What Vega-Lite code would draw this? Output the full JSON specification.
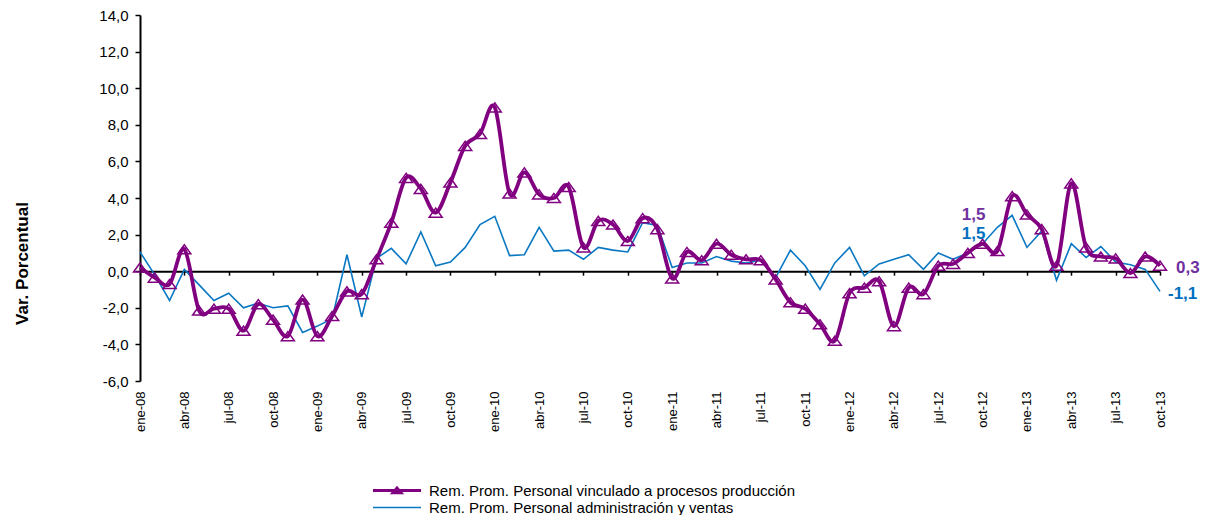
{
  "$schema": "https://vega.github.io/schema/vega-lite/v6.json",
  "width": 1020,
  "height": 366,
  "autosize": {"type": "none"},
  "padding": {"left": 140, "top": 15, "right": 58, "bottom": 134},
  "background": "white",
  "config": {
    "view": {"stroke": null},
    "font": "Liberation Sans",
    "axis": {"labelOverlap": false},
    "axisY": {"labelOverlap": false},
    "axisLeft": {"labelOverlap": false},
    "axisQuantitative": {"labelOverlap": false, "tickCount": 11},
    "locale": {"number": {"decimal": ",", "thousands": ".", "grouping": [3], "currency": ["", " €"], "minus": "-"}}
  },
  "datasets": {
    "series": [
      {"mes": "ene-08", "prod": 0.2, "adm": 1.05},
      {"mes": "feb-08", "prod": -0.35, "adm": -0.2},
      {"mes": "mar-08", "prod": -0.7, "adm": -1.6},
      {"mes": "abr-08", "prod": 1.2, "adm": 0.1},
      {"mes": "may-08", "prod": -2.15, "adm": -0.75},
      {"mes": "jun-08", "prod": -2.05, "adm": -1.6},
      {"mes": "jul-08", "prod": -2.05, "adm": -1.2},
      {"mes": "ago-08", "prod": -3.25, "adm": -2.0},
      {"mes": "sep-08", "prod": -1.8, "adm": -1.75},
      {"mes": "oct-08", "prod": -2.65, "adm": -2.0},
      {"mes": "nov-08", "prod": -3.55, "adm": -1.9},
      {"mes": "dic-08", "prod": -1.55, "adm": -3.35},
      {"mes": "ene-09", "prod": -3.55, "adm": -3.0},
      {"mes": "feb-09", "prod": -2.45, "adm": -2.6},
      {"mes": "mar-09", "prod": -1.1, "adm": 0.9},
      {"mes": "abr-09", "prod": -1.25, "adm": -2.5},
      {"mes": "may-09", "prod": 0.65, "adm": 0.7},
      {"mes": "jun-09", "prod": 2.65, "adm": 1.25},
      {"mes": "jul-09", "prod": 5.1, "adm": 0.4},
      {"mes": "ago-09", "prod": 4.5, "adm": 2.15},
      {"mes": "sep-09", "prod": 3.2, "adm": 0.3},
      {"mes": "oct-09", "prod": 4.85, "adm": 0.5},
      {"mes": "nov-09", "prod": 6.85, "adm": 1.3},
      {"mes": "dic-09", "prod": 7.5, "adm": 2.55},
      {"mes": "ene-10", "prod": 8.95, "adm": 3.0},
      {"mes": "feb-10", "prod": 4.25, "adm": 0.85},
      {"mes": "mar-10", "prod": 5.4, "adm": 0.9},
      {"mes": "abr-10", "prod": 4.2, "adm": 2.4},
      {"mes": "may-10", "prod": 4.0, "adm": 1.1},
      {"mes": "jun-10", "prod": 4.6, "adm": 1.15},
      {"mes": "jul-10", "prod": 1.3, "adm": 0.65},
      {"mes": "ago-10", "prod": 2.75, "adm": 1.3},
      {"mes": "sep-10", "prod": 2.55, "adm": 1.15},
      {"mes": "oct-10", "prod": 1.65, "adm": 1.05},
      {"mes": "nov-10", "prod": 2.9, "adm": 2.65},
      {"mes": "dic-10", "prod": 2.3, "adm": 2.5},
      {"mes": "ene-11", "prod": -0.4, "adm": 0.2},
      {"mes": "feb-11", "prod": 1.05, "adm": 0.45},
      {"mes": "mar-11", "prod": 0.6, "adm": 0.45},
      {"mes": "abr-11", "prod": 1.5, "adm": 0.8},
      {"mes": "may-11", "prod": 0.9, "adm": 0.55},
      {"mes": "jun-11", "prod": 0.65, "adm": 0.45},
      {"mes": "jul-11", "prod": 0.6, "adm": 0.6},
      {"mes": "ago-11", "prod": -0.45, "adm": -0.35},
      {"mes": "sep-11", "prod": -1.7, "adm": 1.15},
      {"mes": "oct-11", "prod": -2.05, "adm": 0.3},
      {"mes": "nov-11", "prod": -2.9, "adm": -1.0},
      {"mes": "dic-11", "prod": -3.8, "adm": 0.45},
      {"mes": "ene-12", "prod": -1.2, "adm": 1.3},
      {"mes": "feb-12", "prod": -0.9, "adm": -0.25},
      {"mes": "mar-12", "prod": -0.55, "adm": 0.4},
      {"mes": "abr-12", "prod": -3.0, "adm": 0.65},
      {"mes": "may-12", "prod": -0.9, "adm": 0.9},
      {"mes": "jun-12", "prod": -1.25, "adm": 0.1},
      {"mes": "jul-12", "prod": 0.3, "adm": 1.0},
      {"mes": "ago-12", "prod": 0.4, "adm": 0.65},
      {"mes": "sep-12", "prod": 1.0, "adm": 1.0},
      {"mes": "oct-12", "prod": 1.5, "adm": 1.5},
      {"mes": "nov-12", "prod": 1.1, "adm": 2.4},
      {"mes": "dic-12", "prod": 4.1, "adm": 3.05},
      {"mes": "ene-13", "prod": 3.1, "adm": 1.3},
      {"mes": "feb-13", "prod": 2.3, "adm": 2.2},
      {"mes": "mar-13", "prod": 0.3, "adm": -0.5},
      {"mes": "abr-13", "prod": 4.8, "adm": 1.5},
      {"mes": "may-13", "prod": 1.3, "adm": 0.75},
      {"mes": "jun-13", "prod": 0.8, "adm": 1.35},
      {"mes": "jul-13", "prod": 0.7, "adm": 0.5},
      {"mes": "ago-13", "prod": -0.1, "adm": 0.35},
      {"mes": "sep-13", "prod": 0.8, "adm": 0.1},
      {"mes": "oct-13", "prod": 0.3, "adm": -1.1}
    ]
  },
  "data": {"name": "series"},
  "layer": [
    {
      "mark": {"type": "line", "strokeWidth": 1.6},
      "encoding": {
        "x": {
          "field": "mes", "type": "ordinal", "sort": null,
          "scale": {"type": "point", "padding": 0},
          "axis": {
            "orient": "bottom",
            "offset": -109.8, "title": null, "labels": false, "grid": false,
            "values": ["ene-08","abr-08","jul-08","oct-08","ene-09","abr-09","jul-09","oct-09","ene-10","abr-10","jul-10","oct-10","ene-11","abr-11","jul-11","oct-11","ene-12","abr-12","jul-12","oct-12","ene-13","abr-13","jul-13","oct-13"],
            "domain": true, "domainColor": "black", "domainWidth": 2,
            "ticks": true, "tickSize": 4, "tickColor": "black", "tickWidth": 1.5
          }
        },
        "y": {
          "field": "adm", "type": "quantitative",
          "scale": {"domain": [-6, 14], "nice": false, "zero": false},
          "axis": {
            "title": "Var. Porcentual",
            "titleFontSize": 17, "titleFontWeight": "bold", "titleColor": "black",
            "titleX": -118, "titleY": 248, "titleAngle": 270, "titleAlign": "center", "titleBaseline": "middle",
            "values": [-6, -4, -2, 0, 2, 4, 6, 8, 10, 12, 14],
            "tickCount": 11,
            "format": ".1f", "labelOverlap": false, "labelFlush": false, "labelBound": false,
            "labelFontSize": 15, "labelColor": "black", "labelPadding": 7,
            "grid": false,
            "domainColor": "black", "domainWidth": 2,
            "tickColor": "black", "tickSize": 5, "tickWidth": 1.5
          }
        },
        "color": {
          "datum": "Rem. Prom. Personal administración y ventas",
          "scale": {
            "domain": ["Rem. Prom. Personal vinculado a procesos producción", "Rem. Prom. Personal administración y ventas"],
            "range": ["#800080", "#0A78C2"]
          },
          "legend": {
            "orient": "none", "legendX": 249.5, "legendY": 468, "direction": "vertical",
            "title": null, "labelFontSize": 15, "labelColor": "black", "labelLimit": 700,
            "symbolSize": 100, "symbolStrokeWidth": 3, "labelOffset": 24.5, "rowPadding": 1,
            "encode": {
              "symbols": {
                "update": {
                  "shape": {"signal": "datum.index === 0 ? 'M-4.8,0L4.8,0M-0.8,0.45L0,-0.5L0.8,0.45Z' : 'M-4.8,0L4.8,0'"},
                  "strokeWidth": {"signal": "datum.index === 0 ? 3 : 1.5"},
                  "fill": {"value": "transparent"}
                }
              }
            }
          }
        }
      }
    },
    {
      "mark": {"type": "line", "strokeWidth": 3.8, "interpolate": "cardinal"},
      "encoding": {
        "x": {
          "field": "mes", "type": "ordinal", "sort": null,
          "axis": {
            "orient": "bottom",
            "title": null, "labelAngle": 270, "labelFontSize": 13, "labelColor": "black",
            "labelPadding": 10, "ticks": false, "domain": false, "grid": false, "labelOverlap": false,
            "values": ["ene-08","abr-08","jul-08","oct-08","ene-09","abr-09","jul-09","oct-09","ene-10","abr-10","jul-10","oct-10","ene-11","abr-11","jul-11","oct-11","ene-12","abr-12","jul-12","oct-12","ene-13","abr-13","jul-13","oct-13"]
          }
        },
        "y": {"field": "prod", "type": "quantitative", "axis": {"labelOverlap": false}},
        "color": {"datum": "Rem. Prom. Personal vinculado a procesos producción"}
      }
    },
    {
      "mark": {"type": "point", "shape": "M0,-0.7L-1,0.7L1,0.7Z", "size": 169, "filled": false, "stroke": "#800080", "strokeWidth": 1.5, "opacity": 1},
      "encoding": {
        "x": {"field": "mes", "type": "ordinal", "sort": null, "axis": null},
        "y": {"field": "prod", "type": "quantitative", "axis": {"labelOverlap": false}}
      }
    },
    {
      "transform": [{"filter": "datum.mes === 'oct-12'"}],
      "mark": {"type": "text", "color": "#7030A0", "fontSize": 17, "fontWeight": "bold", "align": "center", "baseline": "middle", "dx": -9, "dy": -29},
      "encoding": {
        "x": {"field": "mes", "type": "ordinal", "sort": null, "axis": null},
        "y": {"field": "prod", "type": "quantitative", "axis": {"labelOverlap": false}},
        "text": {"field": "prod", "type": "quantitative", "format": ".1f"}
      }
    },
    {
      "transform": [{"filter": "datum.mes === 'oct-12'"}],
      "mark": {"type": "text", "color": "#0070C0", "fontSize": 17, "fontWeight": "bold", "align": "center", "baseline": "middle", "dx": -9, "dy": -10},
      "encoding": {
        "x": {"field": "mes", "type": "ordinal", "sort": null, "axis": null},
        "y": {"field": "adm", "type": "quantitative", "axis": {"labelOverlap": false}},
        "text": {"field": "adm", "type": "quantitative", "format": ".1f"}
      }
    },
    {
      "transform": [{"filter": "datum.mes === 'oct-13'"}],
      "mark": {"type": "text", "color": "#7030A0", "fontSize": 17, "fontWeight": "bold", "align": "left", "baseline": "middle", "dx": 16, "dy": 2},
      "encoding": {
        "x": {"field": "mes", "type": "ordinal", "sort": null, "axis": null},
        "y": {"field": "prod", "type": "quantitative", "axis": {"labelOverlap": false}},
        "text": {"field": "prod", "type": "quantitative", "format": ".1f"}
      }
    },
    {
      "transform": [{"filter": "datum.mes === 'oct-13'"}],
      "mark": {"type": "text", "color": "#0070C0", "fontSize": 17, "fontWeight": "bold", "align": "left", "baseline": "middle", "dx": 8, "dy": 3},
      "encoding": {
        "x": {"field": "mes", "type": "ordinal", "sort": null, "axis": null},
        "y": {"field": "adm", "type": "quantitative", "axis": {"labelOverlap": false}},
        "text": {"field": "adm", "type": "quantitative", "format": ".1f"}
      }
    }
  ],
  "resolve": {"axis": {"x": "independent"}}
}
